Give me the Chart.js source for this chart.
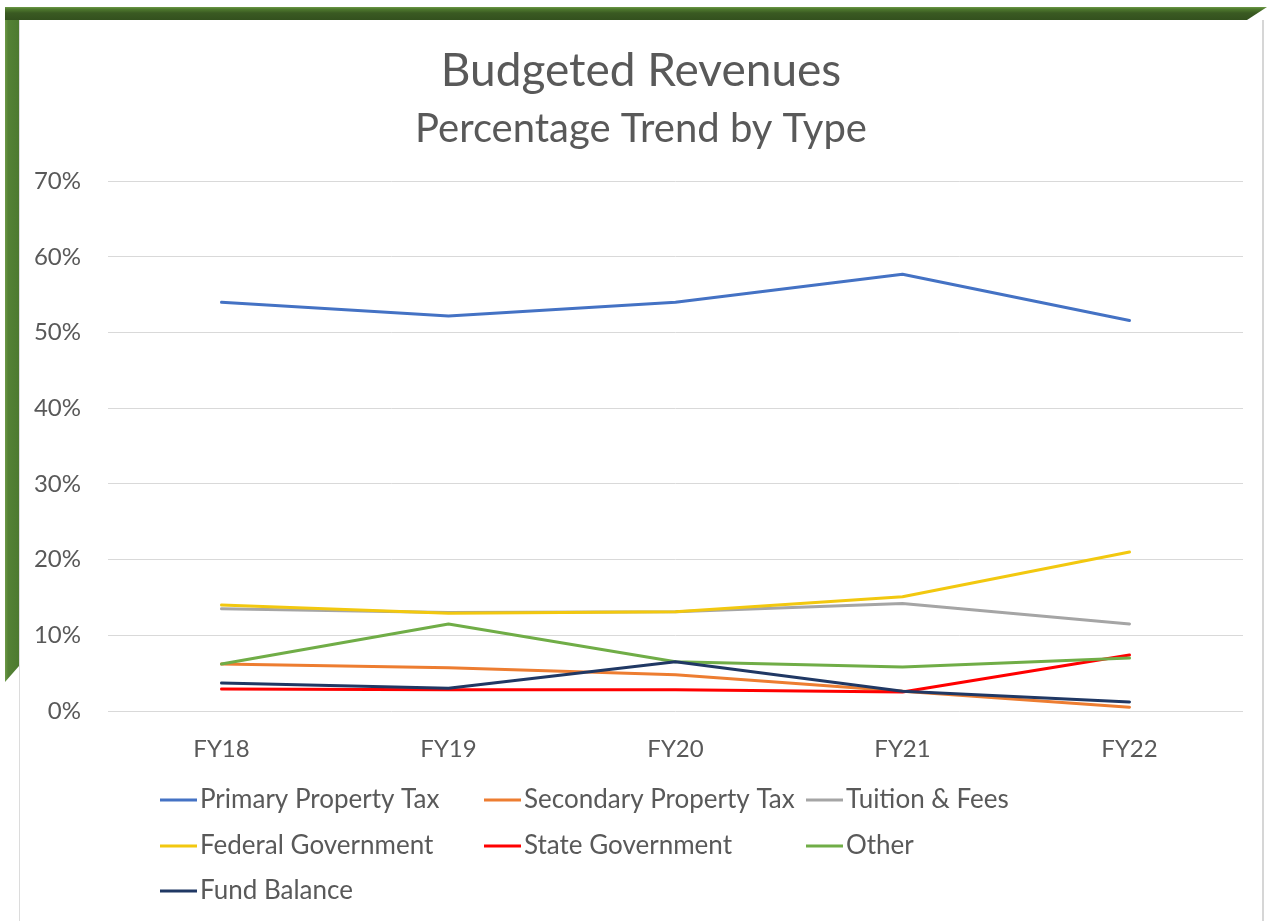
<!DOCTYPE html>
<html>
<head>
<meta charset="utf-8">
<script src="https://cdn.jsdelivr.net/npm/chart.js@4.4.0/dist/chart.umd.min.js"></script>
<style>
  body { margin: 0; background: #fff; width: 1267px; height: 921px; overflow: hidden; position: relative; }
  .topbar {
    position: absolute; left: 5px; top: 7px; width: 1262px; height: 13px;
    background: linear-gradient(#6d9a47 0px, #4f7a2e 2px, #3a5a22 6px, #33501e 13px);
    clip-path: polygon(0 0, 100% 0, calc(100% - 20px) 100%, 0 100%);
  }
  .leftbar {
    position: absolute; left: 5px; top: 7px; width: 14px; height: 675px;
    background: linear-gradient(90deg, #6d9a47 0px, #548235 3px, #4c7a2f 14px);
    clip-path: polygon(0 0, 100% 0, 100% calc(100% - 16px), 0 100%);
  }
  .card {
    position: absolute; left: 19px; top: 20px; width: 1242px; height: 901px;
    background: #fff; border-left: 1px solid #dcdcdc; border-right: 2px solid #d6d6d6;
  }
  #chart { position: absolute; left: 20px; top: 20px; }
</style>
</head>
<body>
<div class="card"></div>
<div class="leftbar"></div>
<div class="topbar"></div>
<canvas id="chart" width="1242" height="901"></canvas>
<script>
// values, percent of budgeted revenue
const years = ["FY18", "FY19", "FY20", "FY21", "FY22"];
const primaryTax = [54.0, 52.2, 54.0, 57.7, 51.6];
const secondaryTax = [6.2, 5.7, 4.8, 2.6, 0.5];
const tuitionFees = [13.5, 13.0, 13.1, 14.2, 11.5];
const federalGov = [14.0, 12.9, 13.1, 15.1, 21.0];
const stateGov = [2.9, 2.8, 2.8, 2.5, 7.4];
const otherRev = [6.2, 11.5, 6.5, 5.8, 7.0];
const fundBalance = [3.7, 3.0, 6.5, 2.6, 1.2];

const FONT = "Lato, 'Open Sans', sans-serif";
const GREY = "#595959";

function series(label, data, color, i) {
  return {
    label, data,
    borderColor: color, backgroundColor: color,
    borderWidth: 3, pointRadius: 0, tension: 0,
    borderJoinStyle: "round", borderCapStyle: "round",
    order: -i // later series on top, like the spreadsheet
  };
}

// legend laid out in three columns like the original
const gridLegend = {
  id: "gridLegend",
  afterDraw(chart) {
    const ctx = chart.ctx;
    const cols = [140, 464, 786];
    const rows = [780, 826, 871];
    ctx.save();
    ctx.font = "26px " + FONT;
    ctx.textBaseline = "middle";
    ctx.fillStyle = GREY;
    chart.data.datasets.forEach((ds, i) => {
      const x = cols[i % 3];
      const y = rows[Math.floor(i / 3)];
      ctx.strokeStyle = ds.borderColor;
      ctx.lineWidth = 3;
      ctx.beginPath();
      ctx.moveTo(x, y);
      ctx.lineTo(x + 37, y);
      ctx.stroke();
      ctx.fillText(ds.label, x + 40, y);
    });
    ctx.restore();
  }
};

new Chart(document.getElementById("chart"), {
  type: "line",
  data: {
    labels: years,
    datasets: [
      series("Primary Property Tax", primaryTax, "#4472C4", 0),
      series("Secondary Property Tax", secondaryTax, "#ED7D31", 1),
      series("Tuition & Fees", tuitionFees, "#A5A5A5", 2),
      series("Federal Government", federalGov, "#F2C80F", 3),
      series("State Government", stateGov, "#FF0000", 4),
      series("Other", otherRev, "#70AD47", 5),
      series("Fund Balance", fundBalance, "#203864", 6)
    ]
  },
  options: {
    responsive: false,
    animation: false,
    devicePixelRatio: 1,
    layout: { padding: 0 },
    plugins: {
      legend: { display: false },
      tooltip: { enabled: false },
      title: {
        display: true, text: "Budgeted Revenues", color: GREY,
        font: { family: FONT, size: 46, weight: "normal" },
        padding: { top: 24, bottom: 0 }
      },
      subtitle: {
        display: true, text: "Percentage Trend by Type", color: GREY,
        font: { family: FONT, size: 40, weight: "normal" },
        padding: { top: 6, bottom: 28 }
      }
    },
    scales: {
      x: {
        offset: true,
        grid: { display: false, drawTicks: false, offset: true },
        border: { display: false },
        ticks: { color: GREY, font: { family: FONT, size: 24 }, padding: 24 },
        afterFit(scale) {
          scale.height = 210;
          scale.paddingRight = 19; // white margin right of the plot
        }
      },
      y: {
        min: 0, max: 70,
        grid: { color: "#d9d9d9", lineWidth: 1, drawTicks: false },
        border: { display: false },
        ticks: {
          stepSize: 10, color: GREY, font: { family: FONT, size: 24 }, padding: 27,
          callback: (v) => v + "%"
        },
        afterFit(scale) { scale.width = 88; }
      }
    }
  },
  plugins: [gridLegend]
});
</script>
</body>
</html>
